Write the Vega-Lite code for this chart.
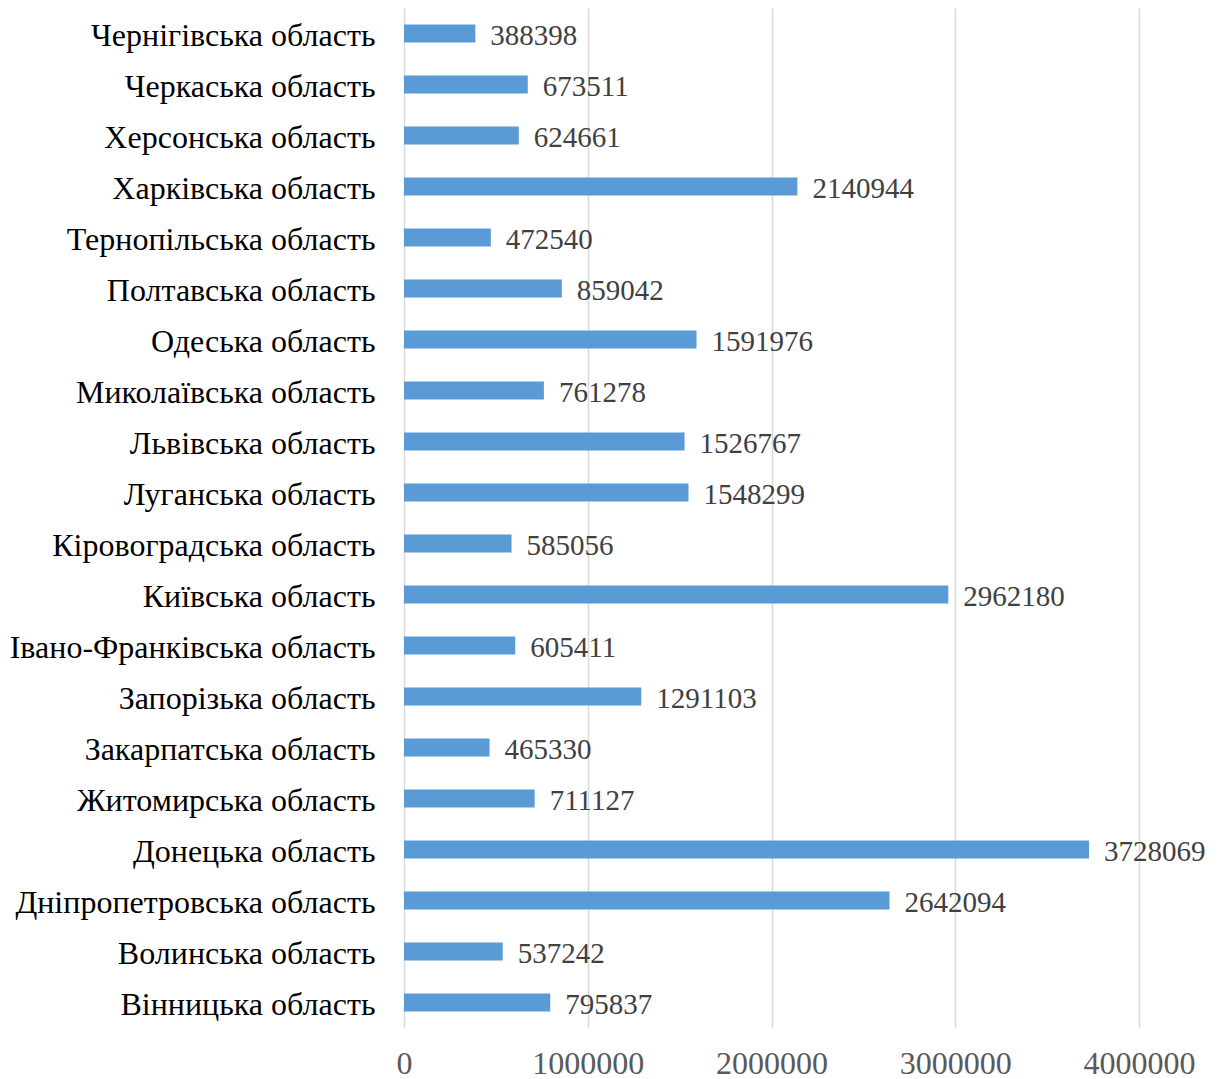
{
  "$schema": "https://vega.github.io/schema/vega-lite/v6.json",
  "autosize": {"type": "none"},
  "width": 735,
  "height": 1020,
  "padding": {"left": 404, "top": 8, "right": 81, "bottom": 51},
  "background": "white",
  "config": {"view": {"stroke": null}, "font": "Liberation Serif"},
  "data": {"values": [
    {"region": "Чернігівська область", "value": 388398},
    {"region": "Черкаська область", "value": 673511},
    {"region": "Херсонська область", "value": 624661},
    {"region": "Харківська область", "value": 2140944},
    {"region": "Тернопільська область", "value": 472540},
    {"region": "Полтавська область", "value": 859042},
    {"region": "Одеська область", "value": 1591976},
    {"region": "Миколаївська область", "value": 761278},
    {"region": "Львівська область", "value": 1526767},
    {"region": "Луганська область", "value": 1548299},
    {"region": "Кіровоградська область", "value": 585056},
    {"region": "Київська область", "value": 2962180},
    {"region": "Івано-Франківська область", "value": 605411},
    {"region": "Запорізька область", "value": 1291103},
    {"region": "Закарпатська область", "value": 465330},
    {"region": "Житомирська область", "value": 711127},
    {"region": "Донецька область", "value": 3728069},
    {"region": "Дніпропетровська область", "value": 2642094},
    {"region": "Волинська область", "value": 537242},
    {"region": "Вінницька область", "value": 795837}
  ]},
  "encoding": {
    "y": {"field": "region", "type": "nominal", "sort": null,
      "scale": {"paddingInner": 0, "paddingOuter": 0},
      "axis": {"title": null, "domain": false, "ticks": false, "labelFont": "Liberation Serif", "labelFontSize": 32, "labelColor": "#000000", "labelPadding": 29, "labelLimit": 500, "labelOffset": 2}},
    "x": {"field": "value", "type": "quantitative",
      "scale": {"domain": [0, 4000000], "nice": false},
      "axis": {"title": null, "values": [0, 1000000, 2000000, 3000000, 4000000], "format": "d", "domain": false, "ticks": false, "grid": true, "gridColor": "#D9D9D9", "gridWidth": 1.5, "labelFont": "Liberation Serif", "labelFontSize": 32, "labelColor": "#595959", "labelPadding": 20, "labelFlush": false}}
  },
  "layer": [
    {"mark": {"type": "bar", "color": "#5B9BD5", "size": 18}},
    {"mark": {"type": "text", "align": "left", "baseline": "middle", "dx": 15, "dy": 2, "font": "Liberation Serif", "fontSize": 29, "color": "#404040"},
     "encoding": {"text": {"field": "value", "type": "quantitative", "format": "d"}}}
  ]
}
